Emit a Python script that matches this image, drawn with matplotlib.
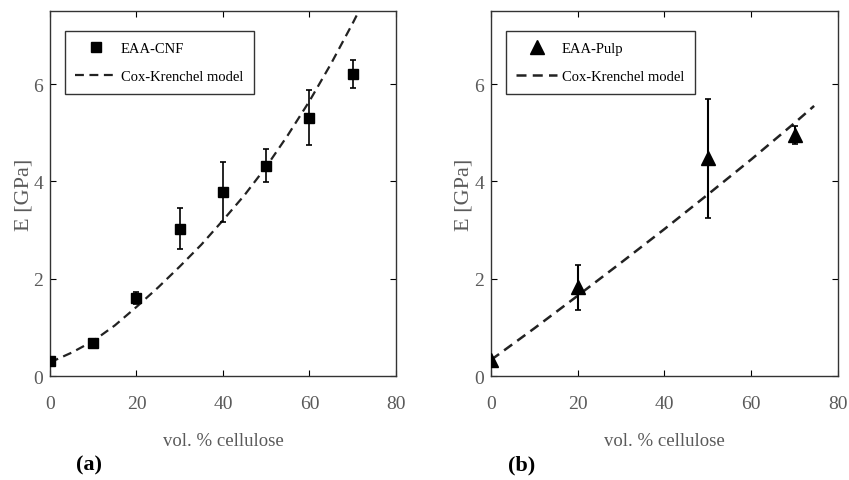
import matplotlib
matplotlib.use('Agg')
import matplotlib.pyplot as plt
from matplotlib.lines import Line2D

# Measured data, panel (a): EAA-CNF
cnf_x = [0, 10, 20, 30, 40, 50, 60, 70]
cnf_E = [0.31, 0.67, 1.60, 3.03, 3.78, 4.32, 5.31, 6.21]
cnf_err = [0.06, 0.06, 0.13, 0.42, 0.62, 0.34, 0.57, 0.29]

# Cox-Krenchel model, panel (a)
ck_a_x = [0, 5, 10, 15, 20, 25, 30, 35, 40, 45, 50, 55, 60, 65, 70, 72]
ck_a_E = [0.28, 0.48, 0.72, 1.04, 1.42, 1.82, 2.25, 2.70, 3.20, 3.72, 4.30, 4.95, 5.65, 6.42, 7.25, 7.6]

# Measured data, panel (b): EAA-Pulp
pulp_x = [0, 20, 50, 70]
pulp_E = [0.33, 1.82, 4.47, 4.95]
pulp_err = [0.05, 0.46, 1.23, 0.18]

# Cox-Krenchel model, panel (b)
ck_b_x = [0, 10, 20, 30, 40, 50, 60, 70, 74.5]
ck_b_E = [0.33, 0.98, 1.65, 2.33, 3.02, 3.73, 4.45, 5.20, 5.55]

xticks = [0, 20, 40, 60, 80]
yticks = [0, 2, 4, 6]

plt.rcParams['font.family'] = ['Liberation Serif', 'DejaVu Serif']

fig = plt.figure(figsize=(8.49, 4.81), dpi=100)
ax1 = fig.add_axes([0.0589, 0.2162, 0.4075, 0.7588])
ax2 = fig.add_axes([0.5783, 0.2162, 0.4087, 0.7588])

gray = '#5a5a5a'
dash = (0, (4, 2.5))

ax1.errorbar(cnf_x, cnf_E, yerr=cnf_err, fmt='s', color='black', ms=6.5,
             elinewidth=1.2, capsize=2.5, capthick=1.2, zorder=3)
ax1.plot(ck_a_x, ck_a_E, color='#222222', ls=dash, lw=1.6)

ax2.errorbar(pulp_x, pulp_E, yerr=pulp_err, fmt='^', color='black', ms=10,
             elinewidth=1.5, capsize=2.5, capthick=1.2, zorder=3)
ax2.plot(ck_b_x, ck_b_E, color='#222222', ls=dash, lw=1.8)

panels = [
    (ax1, '(a)', 0.105, 's', 6.5, 'EAA-CNF', 1.6, -0.047),
    (ax2, '(b)', 0.614, '^', 10, 'EAA-Pulp', 1.8, -0.049),
]
for ax, lab, xpos, mk, ms, name, lw, ylx in panels:
    ax.set_xlim(0, 80)
    ax.set_ylim(0, 7.5)
    ax.set_xticks(xticks)
    ax.set_yticks(yticks)
    ax.tick_params(direction='in', top=True, right=True, length=4,
                   labelsize=14, labelcolor=gray)
    ax.tick_params(axis='x', pad=14)
    ax.tick_params(axis='y', pad=5)
    for s in ax.spines.values():
        s.set_color('#333333')
        s.set_linewidth(1.0)
    ax.set_xlabel('vol. % cellulose', fontsize=13.5, color=gray)
    ax.xaxis.set_label_coords(0.5, -0.154)
    ax.set_ylabel('E [GPa]', fontsize=16, color=gray)
    ax.yaxis.set_label_coords(ylx, 0.5)
    handles = [
        Line2D([], [], marker=mk, ms=ms, color='black', ls='none'),
        Line2D([], [], color='#222222', ls=dash, lw=lw),
    ]
    leg = ax.legend(handles, [name, 'Cox-Krenchel model'], loc='upper left',
                    bbox_to_anchor=(0.042, 0.945), borderaxespad=0,
                    fontsize=10.5, handlelength=2.8, handletextpad=0.3,
                    borderpad=0.75, labelspacing=1.0, fancybox=False,
                    framealpha=1, edgecolor='#333333')
    leg.get_frame().set_linewidth(1.0)
    fig.text(xpos, 0.033, lab, fontsize=16, fontweight='bold',
             ha='center', va='center')

fig.savefig('out.png', dpi=100)
